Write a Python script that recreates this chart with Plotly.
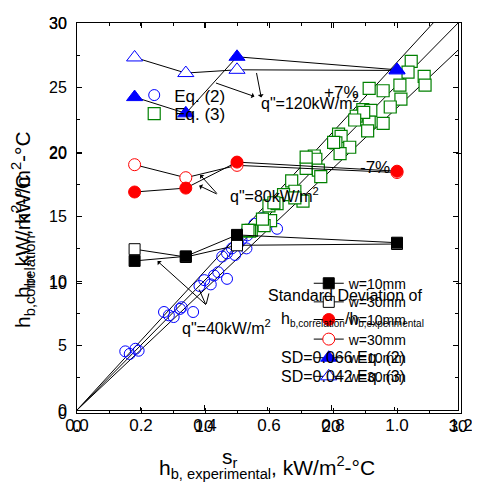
import plotly.graph_objects as go

FONT = "Liberation Sans, Arial, sans-serif"

# ---------------- Chart A: h_b,correlation vs h_b,experimental ----------------
eq2_exp = [3.8, 4.15, 4.6, 4.85, 6.85, 7.23, 7.61, 8.11, 8.24, 9.14, 9.64, 10.02, 10.53, 10.79,
           11.12, 11.81, 11.43, 11.81, 12.44, 12.19, 12.57, 12.95, 13.34, 13.41, 13.34, 13.97,
           14.6, 15.75, 12.7]
eq2_cor = [4.55, 4.35, 4.75, 4.6, 7.6, 7.34, 7.21, 7.84, 7.97, 7.6, 9.62, 10.07, 9.74, 10.43,
           10.68, 10.17, 11.9, 12.15, 12.02, 12.53, 12.78, 13.21, 12.53, 13.54, 13.87, 14.43,
           14.88, 14.05, 12.9]
eq3_exp = [26.31, 26.06, 27.33, 27.4, 25.42, 24.1, 23.0, 25.5, 24.66, 22.5, 23.13, 21.98, 23.0,
           24.1, 22.88, 20.59, 20.79, 20.38, 21.47, 20.71, 18.68, 18.8, 18.04, 19.0, 19.19, 16.9,
           17.15, 17.79, 16.26, 15.11, 15.75, 15.24, 14.73, 13.72, 15.5, 17.15, 14.6, 13.59,
           18.04, 22.57, 21.86, 20.2, 13.46]
eq3_cor = [27.03, 26.2, 25.87, 25.18, 25.18, 24.75, 24.93, 24.1, 23.49, 23.29, 23.23, 22.78, 22.32,
           22.22, 21.64, 21.39, 21.21, 20.71, 20.37, 19.87, 19.69, 19.44, 18.73, 18.6, 18.1, 17.77,
           16.96, 16.2, 16.7, 15.82, 16.0, 14.68, 14.3, 13.92, 16.07, 16.45, 14.8, 13.87,
           19.6, 23.08, 22.48, 20.75, 13.92]
dev_factors = [1.0, 1.07, 0.93]
a_xticks = [0, 10, 20, 30]
a_yticks = [0, 5, 10, 15, 20, 25, 30]

# ---------------- Chart B: h_b vs s_r ----------------
sr = [0.18, 0.34, 0.50, 1.00]
h_w10_q40 = [11.7, 12.05, 13.7, 13.1]
h_w30_q40 = [12.6, 12.0, 12.9, 13.0]
h_w10_q80 = [17.0, 17.3, 19.3, 18.6]
h_w30_q80 = [19.1, 18.1, 19.05, 18.5]
h_w10_q120 = [24.3, 23.05, 27.4, 26.4]
h_w30_q120 = [27.35, 26.15, 26.4, 26.35]
b_yticks = [0, 10, 20, 30]

# page has an 8px body margin: figure is drawn 8px in from the window corner
OFF = 8
FIG_W, FIG_H = 480 - OFF, 482 - OFF
# plot area of the outer frame in window pixels
L, T, W, H = 77, 15, 396, 398
def fx(px):
    return (px - L) / W
def fy(py):
    return (T + H - py) / H

fig = go.Figure()

# chart A reference lines
for k in dev_factors:
    xe = min(30.0, 30.0 / k)
    fig.add_trace(go.Scatter(x=[0, xe], y=[0, xe * k], mode="lines",
                             line=dict(color="black", width=1), showlegend=False,
                             hoverinfo="skip", xaxis="x", yaxis="y"))

fig.add_trace(go.Scatter(x=eq2_exp, y=eq2_cor, mode="markers", name="Eq. (2)",
                         marker=dict(symbol="circle-open", size=11, color="blue",
                                     line=dict(width=1, color="blue")),
                         xaxis="x", yaxis="y", legend="legend"))
fig.add_trace(go.Scatter(x=eq3_exp, y=eq3_cor, mode="markers", name="Eq. (3)",
                         marker=dict(symbol="square", size=12, color="white",
                                     line=dict(width=1.2, color="green")),
                         xaxis="x", yaxis="y", legend="legend2"))

# chart B series (w=30 first so the w=10 markers sit on top)
b_series = [
    ("w=30mm", h_w30_q40, "square", 11, "white", "black", "legend4"),
    ("w=30mm", h_w30_q80, "circle", 12, "white", "red", "legend6"),
    ("w=30mm", h_w30_q120, "triangle-up", 14, "white", "blue", "legend8"),
    ("w=10mm", h_w10_q40, "square", 11, "black", "black", "legend3"),
    ("w=10mm", h_w10_q80, "circle", 12, "red", "red", "legend5"),
    ("w=10mm", h_w10_q120, "triangle-up", 14, "blue", "blue", "legend7"),
]
for name, yv, sym, sz, fill, edge, lg in b_series:
    fig.add_trace(go.Scatter(x=sr, y=yv, mode="lines+markers", name=name,
                             line=dict(color="black", width=1),
                             marker=dict(symbol=sym, size=sz, color=fill,
                                         line=dict(width=1, color=edge)),
                             xaxis="x2", yaxis="y2", legend=lg))

def leg(xpx, ypx, size):
    return dict(x=fx(xpx), y=fy(ypx), xanchor="left", yanchor="middle",
                bgcolor="rgba(0,0,0,0)", borderwidth=0,
                font=dict(family=FONT, size=size, color="black"))

axis_common = dict(showgrid=False, zeroline=False, showline=True, linecolor="black",
                   linewidth=1, ticks="inside", ticklen=5, tickwidth=1, tickcolor="black",
                   mirror="allticks", ticklabeloverflow="allow")

ann = []
def text(t, xpx, ypx, size, xanchor="left", yanchor="middle", angle=0):
    ann.append(dict(text=t, x=fx(xpx), y=fy(ypx), xref="paper", yref="paper",
                    xanchor=xanchor, yanchor=yanchor, showarrow=False, textangle=angle,
                    font=dict(family=FONT, size=size, color="black")))
def arrow(hx, hy, tx, ty, head=1):
    ann.append(dict(text="", x=fx(hx), y=fy(hy), xref="paper", yref="paper",
                    ax=tx - hx, ay=ty - hy, showarrow=True, arrowhead=head,
                    arrowsize=1, arrowwidth=1, arrowcolor="black", standoff=0))

# axis titles
text("h<sub>b, experimental</sub>, kW/m<sup>2</sup>-°C", 273, 469, 21, xanchor="center")
text("s<sub>r</sub>", 235, 459, 21, xanchor="center")
text("h<sub>b,correlation</sub>, kW/m<sup>2</sup>-°C", 21, 328, 21, xanchor="center",
     yanchor="bottom", angle=-90)
text("h<sub>b</sub>, kW/m<sup>2</sup>-°C", 21, 298, 21, xanchor="center",
     yanchor="bottom", angle=-90)

# in-plot texts
text("+7%", 330, 86, 17)
text("-7%", 402, 162, 17, xanchor="right")
text('q"=120kW/m<sup>2</sup>', 265, 96, 16)
text('q"=80kW/m<sup>2</sup>', 233, 191, 16)
text('q"=40kW/m<sup>2</sup>', 183, 325, 16)
text("Standard Deviation of", 272, 293, 16)
text('h<sub><span style="font-size:10px">b,correlation</span></sub>/h'
     '<sub><span style="font-size:10px">b,experimental</span></sub>', 285, 318, 16)
text("SD=0.066 Eq. (2)", 285, 356, 16)
text("SD=0.042 Eq. (3)", 285, 376, 16)

arrow(260, 90, 220, 76)
arrow(267, 91, 262, 65)
arrow(204, 170, 222, 190)
arrow(203, 181, 222, 190)
arrow(160, 258, 210, 303)
arrow(203, 287, 210, 303, head=0)
arrow(213, 291, 210, 303, head=0)

fig.update_layout(
    width=FIG_W, height=FIG_H,
    margin=dict(l=L - OFF, r=FIG_W - (L - OFF) - W, t=T - OFF, b=FIG_H - (T - OFF) - H, pad=0),
    paper_bgcolor="white", plot_bgcolor="rgba(0,0,0,0)",
    font=dict(family=FONT, color="black"),
    xaxis=dict(axis_common, domain=[0, 393 / 396], range=[0, 30], tickvals=a_xticks,
               anchor="y", ticklabelstandoff=1,
               minor=dict(tickvals=[5, 15, 25], ticklen=3, ticks="inside", tickcolor="black"),
               tickfont=dict(family=FONT, size=17, color="black")),
    yaxis=dict(axis_common, domain=[3 / 398, 1], range=[0, 30], tickvals=a_yticks,
               anchor="x", ticklabelstandoff=6,
               minor=dict(dtick=2.5, ticklen=3, ticks="inside", tickcolor="black"),
               tickfont=dict(family=FONT, size=16, color="black")),
    xaxis2=dict(axis_common, domain=[0, 1], range=[0, 1.2], dtick=0.2, tick0=0,
                tickformat=".1f", anchor="y2", ticklabelstandoff=-3,
                minor=dict(dtick=0.1, ticklen=3, ticks="inside", tickcolor="black"),
                tickfont=dict(family=FONT, size=17, color="black")),
    yaxis2=dict(axis_common, domain=[0, 1], range=[0, 30], tickvals=b_yticks,
                anchor="x2", ticklabelstandoff=6,
                tickfont=dict(family=FONT, size=16, color="black")),
    legend=leg(136, 89, 17),
    legend2=leg(136, 108, 17),
    legend3=leg(316, 281, 14),
    legend4=leg(316, 300, 14),
    legend5=leg(316, 318, 14),
    legend6=leg(316, 338, 14),
    legend7=leg(316, 357, 14),
    legend8=leg(316, 376, 14),
    annotations=ann,
)

fig.write_html("out.html")
